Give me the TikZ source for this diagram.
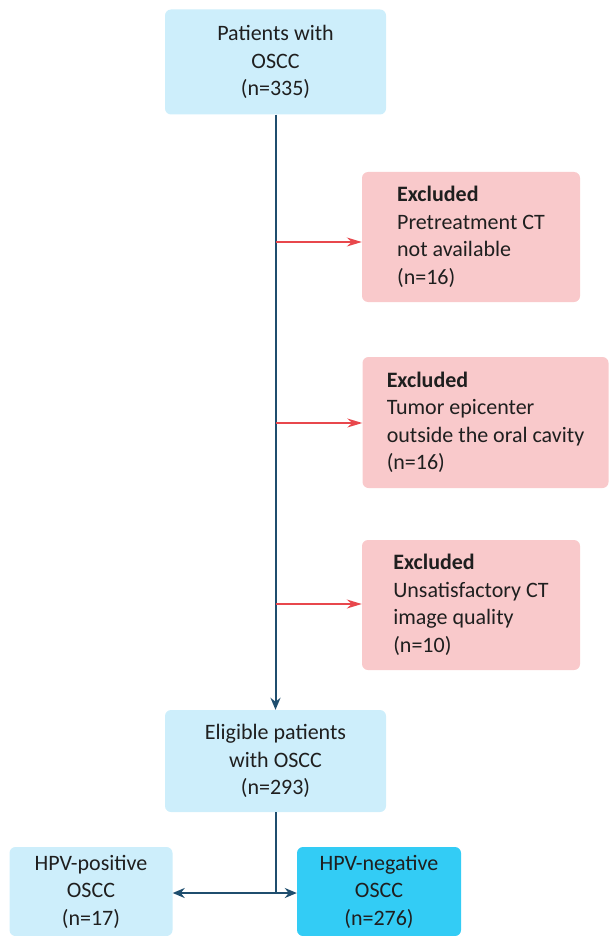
\documentclass[tikz,border=0pt]{standalone}
\usepackage{fontspec}
\setmainfont{Carlito}
\usetikzlibrary{arrows.meta}
\definecolor{lblue}{HTML}{CDEEFB}
\definecolor{bblue}{HTML}{33CCF5}
\definecolor{pinkbox}{HTML}{F9C9CB}
\definecolor{redarr}{HTML}{E8474C}
\definecolor{darkline}{HTML}{1F4E6E}
\tikzset{
  base/.style={rectangle, rounded corners=6pt, draw=none, inner sep=0pt,
    font=\fontsize{22}{27.5}\selectfont, text=black!88},
  bluebox/.style={base, fill=lblue, align=center},
  brightbox/.style={base, fill=bblue, align=center},
  exbox/.style={base, fill=pinkbox, align=left, inner xsep=10pt},
  mainarr/.style={draw=darkline, line width=2pt, -{Stealth[length=12pt,width=10pt]}},
  mainline/.style={draw=darkline, line width=2pt},
  exarr/.style={draw=redarr, line width=1.6pt, -{Stealth[length=15pt,width=9pt]}}
}
\begin{document}
\begin{tikzpicture}[x=1pt,y=-1pt]
\useasboundingbox (0,0) rectangle (609,936);
\node[bluebox, minimum width=221pt, minimum height=105pt] (top) at (275.5,62) {Patients with\\OSCC\\(n=335)};
\node[exbox, minimum width=218pt, minimum height=130pt] (ex1) at (471,237) {\textbf{Excluded}\\Pretreatment CT\\not available\\(n=16)};
\node[exbox, minimum width=246pt, minimum height=131pt] (ex2) at (485.5,422.5) {\textbf{Excluded}\\Tumor epicenter\\outside the oral cavity\\(n=16)};
\node[exbox, minimum width=218pt, minimum height=130pt] (ex3) at (471,605) {\textbf{Excluded}\\Unsatisfactory CT\\image quality\\(n=10)};
\node[bluebox, minimum width=221pt, minimum height=102pt] (elig) at (275.5,761) {Eligible patients\\with OSCC\\(n=293)};
\node[bluebox, minimum width=163pt, minimum height=89pt] (pos) at (91,891.5) {HPV-positive\\OSCC\\(n=17)};
\node[brightbox, minimum width=164pt, minimum height=89pt] (neg) at (379,891.5) {HPV-negative\\OSCC\\(n=276)};
\coordinate (j1) at (275.5,242);
\coordinate (j2) at (275.5,423);
\coordinate (j3) at (275.5,604);
\coordinate (split) at (275.5,893);
\draw[mainarr] (top.south) -- (elig.north);
\draw[exarr] (j1) -- (ex1.west |- j1);
\draw[exarr] (j2) -- (ex2.west |- j2);
\draw[exarr] (j3) -- (ex3.west |- j3);
\draw[mainline] (elig.south) -- (split);
\draw[mainarr] (split) -- (pos.east |- split);
\draw[mainarr] (split) -- (neg.west |- split);
\end{tikzpicture}
\end{document}
